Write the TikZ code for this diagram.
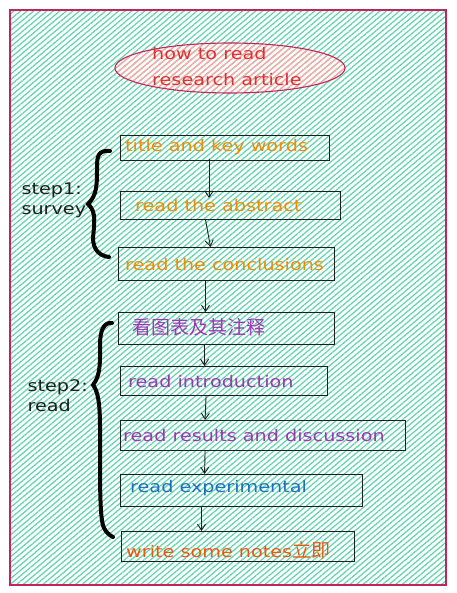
\documentclass[tikz,border=0pt]{standalone}
\usepackage{fontspec}
\setmainfont{DejaVu Sans}
\newfontfamily\hand[FakeStretch=1.2]{DejaVu Sans}
\newfontfamily\cjk{Noto Sans CJK SC}
\usetikzlibrary{patterns.meta,arrows.meta,shapes.geometric}
\definecolor{hatchteal}{HTML}{63D4AE}
\definecolor{frame}{HTML}{C2255C}
\definecolor{ellred}{HTML}{E03131}
\definecolor{ellhatch}{HTML}{FFA8A8}
\definecolor{txtorange}{HTML}{F08C00}
\definecolor{txtred}{HTML}{E8590C}
\definecolor{txtpurple}{HTML}{9C36B5}
\definecolor{txtblue}{HTML}{1971C2}
\definecolor{ink}{HTML}{1E1E1E}
\tikzset{
  stepbox/.style={draw=ink, line width=1.1pt, anchor=north west, inner sep=0pt},
  boxtext/.style={anchor=west, inner sep=0pt, font=\hand\fontsize{16}{16}\selectfont},
  cjktext/.style={anchor=west, inner sep=0pt, font=\cjk\fontsize{19}{19}\selectfont},
  flow/.style={draw=ink, line width=0.9pt, -{Straight Barb[length=6pt,width=8pt]}},
  bracestyle/.style={draw=black, line width=4pt, line cap=round},
  steplabel/.style={align=left, anchor=west, font=\hand\fontsize{16}{20}\selectfont, text=ink}
}
\begin{document}
\begin{tikzpicture}[x=1pt,y=-1pt]
\useasboundingbox (0,0) rectangle (456,593);
\fill[white] (0,0) rectangle (456,593);
% outer frame
\path[pattern={Lines[angle=40,distance=4.2pt,line width=1.25pt]}, pattern color=hatchteal] (10,10) rectangle (446,585);
\draw[frame, line width=1.2pt] (10,10) rectangle (446,585);
% title ellipse
\node[ellipse, draw=frame, line width=1.1pt, minimum width=230pt, minimum height=50pt,
  pattern={Lines[angle=40,distance=4.2pt,line width=1.3pt]}, pattern color=ellhatch] (title) at (230,68) {};
\node[text=ellred, align=left, anchor=north west, inner sep=0pt,
  font=\hand\fontsize{16}{26}\selectfont] (titletext) at (152,47) {how to read\\research article};
% boxes
\node[stepbox, minimum width=209pt, minimum height=25pt] (b1) at (120,135) {};
\node[boxtext, text=txtorange] (t1) at (125,147.5) {title and key words};
\node[stepbox, minimum width=220pt, minimum height=28pt] (b2) at (120,191) {};
\node[boxtext, text=txtorange] (t2) at (135,206) {read the abstract};
\node[stepbox, minimum width=216pt, minimum height=33pt] (b3) at (118,247) {};
\node[boxtext, text=txtorange] (t3) at (125,265) {read the conclusions};
\node[stepbox, minimum width=216pt, minimum height=32pt] (b4) at (118,312) {};
\node[cjktext, text=txtpurple] (t4) at (132,327) {看图表及其注释};
\node[stepbox, minimum width=207pt, minimum height=29pt] (b5) at (120,366) {};
\node[boxtext, text=txtpurple] (t5) at (128,382) {read introduction};
\node[stepbox, minimum width=285pt, minimum height=30pt] (b6) at (120,420) {};
\node[boxtext, text=txtpurple] (t6) at (123,436) {read results and discussion};
\node[stepbox, minimum width=242pt, minimum height=32pt] (b7) at (120,474) {};
\node[boxtext, text=txtblue] (t7) at (130,488) {read experimental};
\node[stepbox, minimum width=233pt, minimum height=30pt] (b8) at (121,531) {};
\node[boxtext, text=txtred] (t8) at (126,550) {write some notes{\cjk\fontsize{19}{19}\selectfont 立即}};
% arrows
\coordinate (a1s) at ([xshift=-16pt,yshift=2pt]b1.south);
\draw[flow] (a1s) -- ([yshift=-7pt]a1s |- b2.north);
\draw[flow] ([xshift=-25pt]b2.south) -- ([xshift=-16pt]b3.north);
\draw[flow] ([xshift=-21pt]b3.south) -- ([xshift=-21pt]b4.north);
\draw[flow] ([xshift=-22pt]b4.south) -- ([xshift=-19.5pt]b5.north);
\draw[flow] ([xshift=-18pt]b5.south) -- ([xshift=-58pt]b6.north);
\draw[flow] ([xshift=-58pt]b6.south) -- ([xshift=-37pt]b7.north);
\draw[flow] ([xshift=-40pt]b7.south) -- ([xshift=-36.5pt]b8.north);
% braces
\coordinate (br1t) at (110,151);
\coordinate (br1b) at (109,257);
\draw[bracestyle] (br1t) .. controls (98,150) and (97,156) .. (97,168)
  .. controls (97,185) and (97,195) .. (88,204)
  .. controls (97,212) and (94,225) .. (93,238)
  .. controls (93,250) and (100,256) .. (br1b);
\coordinate (br2t) at (112,323);
\coordinate (br2b) at (113,537);
\draw[bracestyle] (br2t) .. controls (104,322) and (100,330) .. (100,345)
  .. controls (100,360) and (101,375) .. (93,385)
  .. controls (101,395) and (100,420) .. (100,450)
  .. controls (100,490) and (100,520) .. (104,528)
  .. controls (106,532) and (109,535) .. (br2b);
% labels
\node[steplabel] (s1) at (18,200) {step1:\\survey};
\node[steplabel] (s2) at (24,396) {step2:\\read};
\end{tikzpicture}
\end{document}
